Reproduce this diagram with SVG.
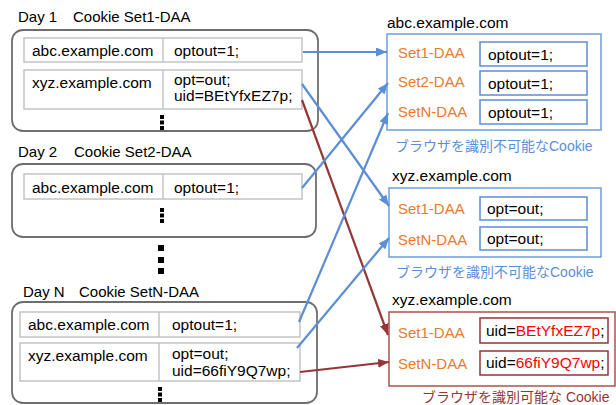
<svg xmlns="http://www.w3.org/2000/svg" width="616" height="405" viewBox="0 0 616 405">
  <style>
    text { font-family: "Liberation Sans", "Noto Sans CJK JP", sans-serif; fill: #000; }
    .lbl { font-size: 15px; }
    .cell { font-size: 15.5px; }
    .set { font-size: 15px; fill: #ea7a2c; }
    .cap { font-size: 14px; }
    .store { fill: #fff; stroke: #6e6e6e; stroke-width: 1.8; }
    .row { fill: #fff; stroke: #c4c4c4; stroke-width: 1.5; }
    .dot { fill: #000; }
    .jarA { fill: #fff; stroke: #6c9de0; stroke-width: 1.5; }
    .valA { fill: #fff; stroke: #5b8ed6; stroke-width: 1.5; }
    .jarR { fill: #fff; stroke: #b0504c; stroke-width: 1.5; }
    .valR { fill: #fff; stroke: #943634; stroke-width: 1.5; }
    .blue { stroke: #5b8ed6; stroke-width: 2.2; fill: none; }
    .red { stroke: #943634; stroke-width: 2.2; fill: none; }
    .hl { fill: #ff0000; }
  </style>
  <defs>
    <marker id="arrowBlue" markerUnits="userSpaceOnUse" markerWidth="11" markerHeight="9" refX="11" refY="4.5" orient="auto">
      <path d="M0,0 L11,4.5 L0,9 z" fill="#5b8ed6"/>
    </marker>
    <marker id="arrowRed" markerUnits="userSpaceOnUse" markerWidth="11" markerHeight="9" refX="11" refY="4.5" orient="auto">
      <path d="M0,0 L11,4.5 L0,9 z" fill="#943634"/>
    </marker>
  </defs>

  <rect width="616" height="405" fill="#fff"/>

  <!-- Day 1 cookie store -->
  <g id="day1">
    <text class="lbl" x="18" y="22">Day 1</text>
    <text class="lbl" x="73" y="22">Cookie Set1-DAA</text>
    <rect class="store" x="12" y="30" width="306" height="101" rx="11"/>
    <rect class="row" x="24" y="38" width="278" height="24"/>
    <line class="row" x1="163" y1="38" x2="163" y2="62"/>
    <text class="cell" x="32" y="56">abc.example.com</text>
    <text class="cell" x="174" y="56">optout=1;</text>
    <rect class="row" x="24" y="70" width="278" height="39"/>
    <line class="row" x1="163" y1="70" x2="163" y2="109"/>
    <text class="cell" x="32" y="88">xyz.example.com</text>
    <text class="cell" x="174" y="85">opt=out;</text>
    <text class="cell" x="174" y="101">uid=BEtYfxEZ7p;</text>
    <rect class="dot" x="160" y="115" width="4" height="4"/>
    <rect class="dot" x="160" y="120.5" width="4" height="4"/>
    <rect class="dot" x="160" y="126" width="4" height="4"/>
  </g>

  <!-- Day 2 cookie store -->
  <g id="day2">
    <text class="lbl" x="18" y="157">Day 2</text>
    <text class="lbl" x="74" y="157">Cookie Set2-DAA</text>
    <rect class="store" x="12" y="164" width="304" height="73" rx="11"/>
    <rect class="row" x="24" y="174" width="278" height="25"/>
    <line class="row" x1="163" y1="174" x2="163" y2="199"/>
    <text class="cell" x="32" y="193">abc.example.com</text>
    <text class="cell" x="174" y="193">optout=1;</text>
    <rect class="dot" x="160" y="208" width="4" height="4"/>
    <rect class="dot" x="160" y="213.5" width="4" height="4"/>
    <rect class="dot" x="160" y="219" width="4" height="4"/>
  </g>

  <!-- days in between -->
  <g id="gap">
    <rect class="dot" x="158" y="245" width="6" height="6"/>
    <rect class="dot" x="158" y="257" width="6" height="6"/>
    <rect class="dot" x="158" y="268" width="6" height="6"/>
  </g>

  <!-- Day N cookie store -->
  <g id="dayN">
    <text class="lbl" x="23" y="297">Day N</text>
    <text class="lbl" x="79" y="297">Cookie SetN-DAA</text>
    <rect class="store" x="12" y="302" width="305" height="101" rx="11"/>
    <rect class="row" x="20" y="312" width="280" height="25"/>
    <line class="row" x1="159" y1="312" x2="159" y2="337"/>
    <text class="cell" x="28" y="330">abc.example.com</text>
    <text class="cell" x="172" y="330">optout=1;</text>
    <rect class="row" x="20" y="343" width="280" height="38"/>
    <line class="row" x1="159" y1="343" x2="159" y2="381"/>
    <text class="cell" x="28" y="361">xyz.example.com</text>
    <text class="cell" x="172" y="359">opt=out;</text>
    <text class="cell" x="172" y="376">uid=66fiY9Q7wp;</text>
    <rect class="dot" x="158" y="387" width="4" height="4"/>
    <rect class="dot" x="158" y="392.5" width="4" height="4"/>
    <rect class="dot" x="158" y="398" width="4" height="4"/>
  </g>

  <!-- abc.example.com jar -->
  <g id="abcJar">
    <text class="cell" x="387" y="28">abc.example.com</text>
    <rect class="jarA" x="387" y="34" width="214" height="96"/>
    <text class="set" x="398" y="58">Set1-DAA</text>
    <rect class="valA" x="480" y="42" width="107" height="24"/>
    <text class="cell" x="488" y="60">optout=1;</text>
    <text class="set" x="398" y="87">Set2-DAA</text>
    <rect class="valA" x="480" y="71" width="107" height="24"/>
    <text class="cell" x="488" y="89">optout=1;</text>
    <text class="set" x="398" y="117">SetN-DAA</text>
    <rect class="valA" x="480" y="100" width="107" height="24"/>
    <text class="cell" x="488" y="118">optout=1;</text>
    <text class="cap" x="395" y="151" style="fill:#5b8ed6">ブラウザを識別不可能なCookie</text>
  </g>

  <!-- xyz.example.com jar (opt-out values) -->
  <g id="xyzJar">
    <text class="cell" x="392" y="181">xyz.example.com</text>
    <rect class="jarA" x="389" y="188" width="212" height="69"/>
    <text class="set" x="398" y="214">Set1-DAA</text>
    <rect class="valA" x="480" y="197" width="107" height="23"/>
    <text class="cell" x="487" y="214">opt=out;</text>
    <text class="set" x="398" y="245">SetN-DAA</text>
    <rect class="valA" x="480" y="227" width="107" height="23"/>
    <text class="cell" x="487" y="244">opt=out;</text>
    <text class="cap" x="396" y="277" style="fill:#5b8ed6">ブラウザを識別不可能なCookie</text>
  </g>

  <!-- xyz.example.com jar (uid values) -->
  <g id="xyzUidJar">
    <text class="cell" x="392" y="305">xyz.example.com</text>
    <rect class="jarR" x="389" y="312" width="226" height="74"/>
    <text class="set" x="398" y="338">Set1-DAA</text>
    <rect class="valR" x="480" y="318" width="128" height="25"/>
    <text class="cell" x="486" y="336">uid=<tspan class="hl">BEtYfxEZ7p</tspan>;</text>
    <text class="set" x="398" y="369">SetN-DAA</text>
    <rect class="valR" x="480" y="351" width="128" height="24"/>
    <text class="cell" x="486" y="368">uid=<tspan class="hl">66fiY9Q7wp</tspan>;</text>
    <text class="cap" x="422" y="402" style="fill:#943634">ブラウザを識別可能な Cookie</text>
  </g>

  <!-- connectors -->
  <g id="connectors">
    <line class="blue" x1="303" y1="52" x2="387" y2="52" marker-end="url(#arrowBlue)"/>
    <line class="blue" x1="302" y1="84" x2="389" y2="206" marker-end="url(#arrowBlue)"/>
    <line class="red" x1="302" y1="100" x2="388" y2="335" marker-end="url(#arrowRed)"/>
    <line class="blue" x1="302" y1="188" x2="388" y2="83" marker-end="url(#arrowBlue)"/>
    <line class="blue" x1="299" y1="322" x2="388" y2="113" marker-end="url(#arrowBlue)"/>
    <line class="blue" x1="297" y1="348" x2="389" y2="238" marker-end="url(#arrowBlue)"/>
    <line class="red" x1="300" y1="372" x2="389" y2="362" marker-end="url(#arrowRed)"/>
  </g>
</svg>
